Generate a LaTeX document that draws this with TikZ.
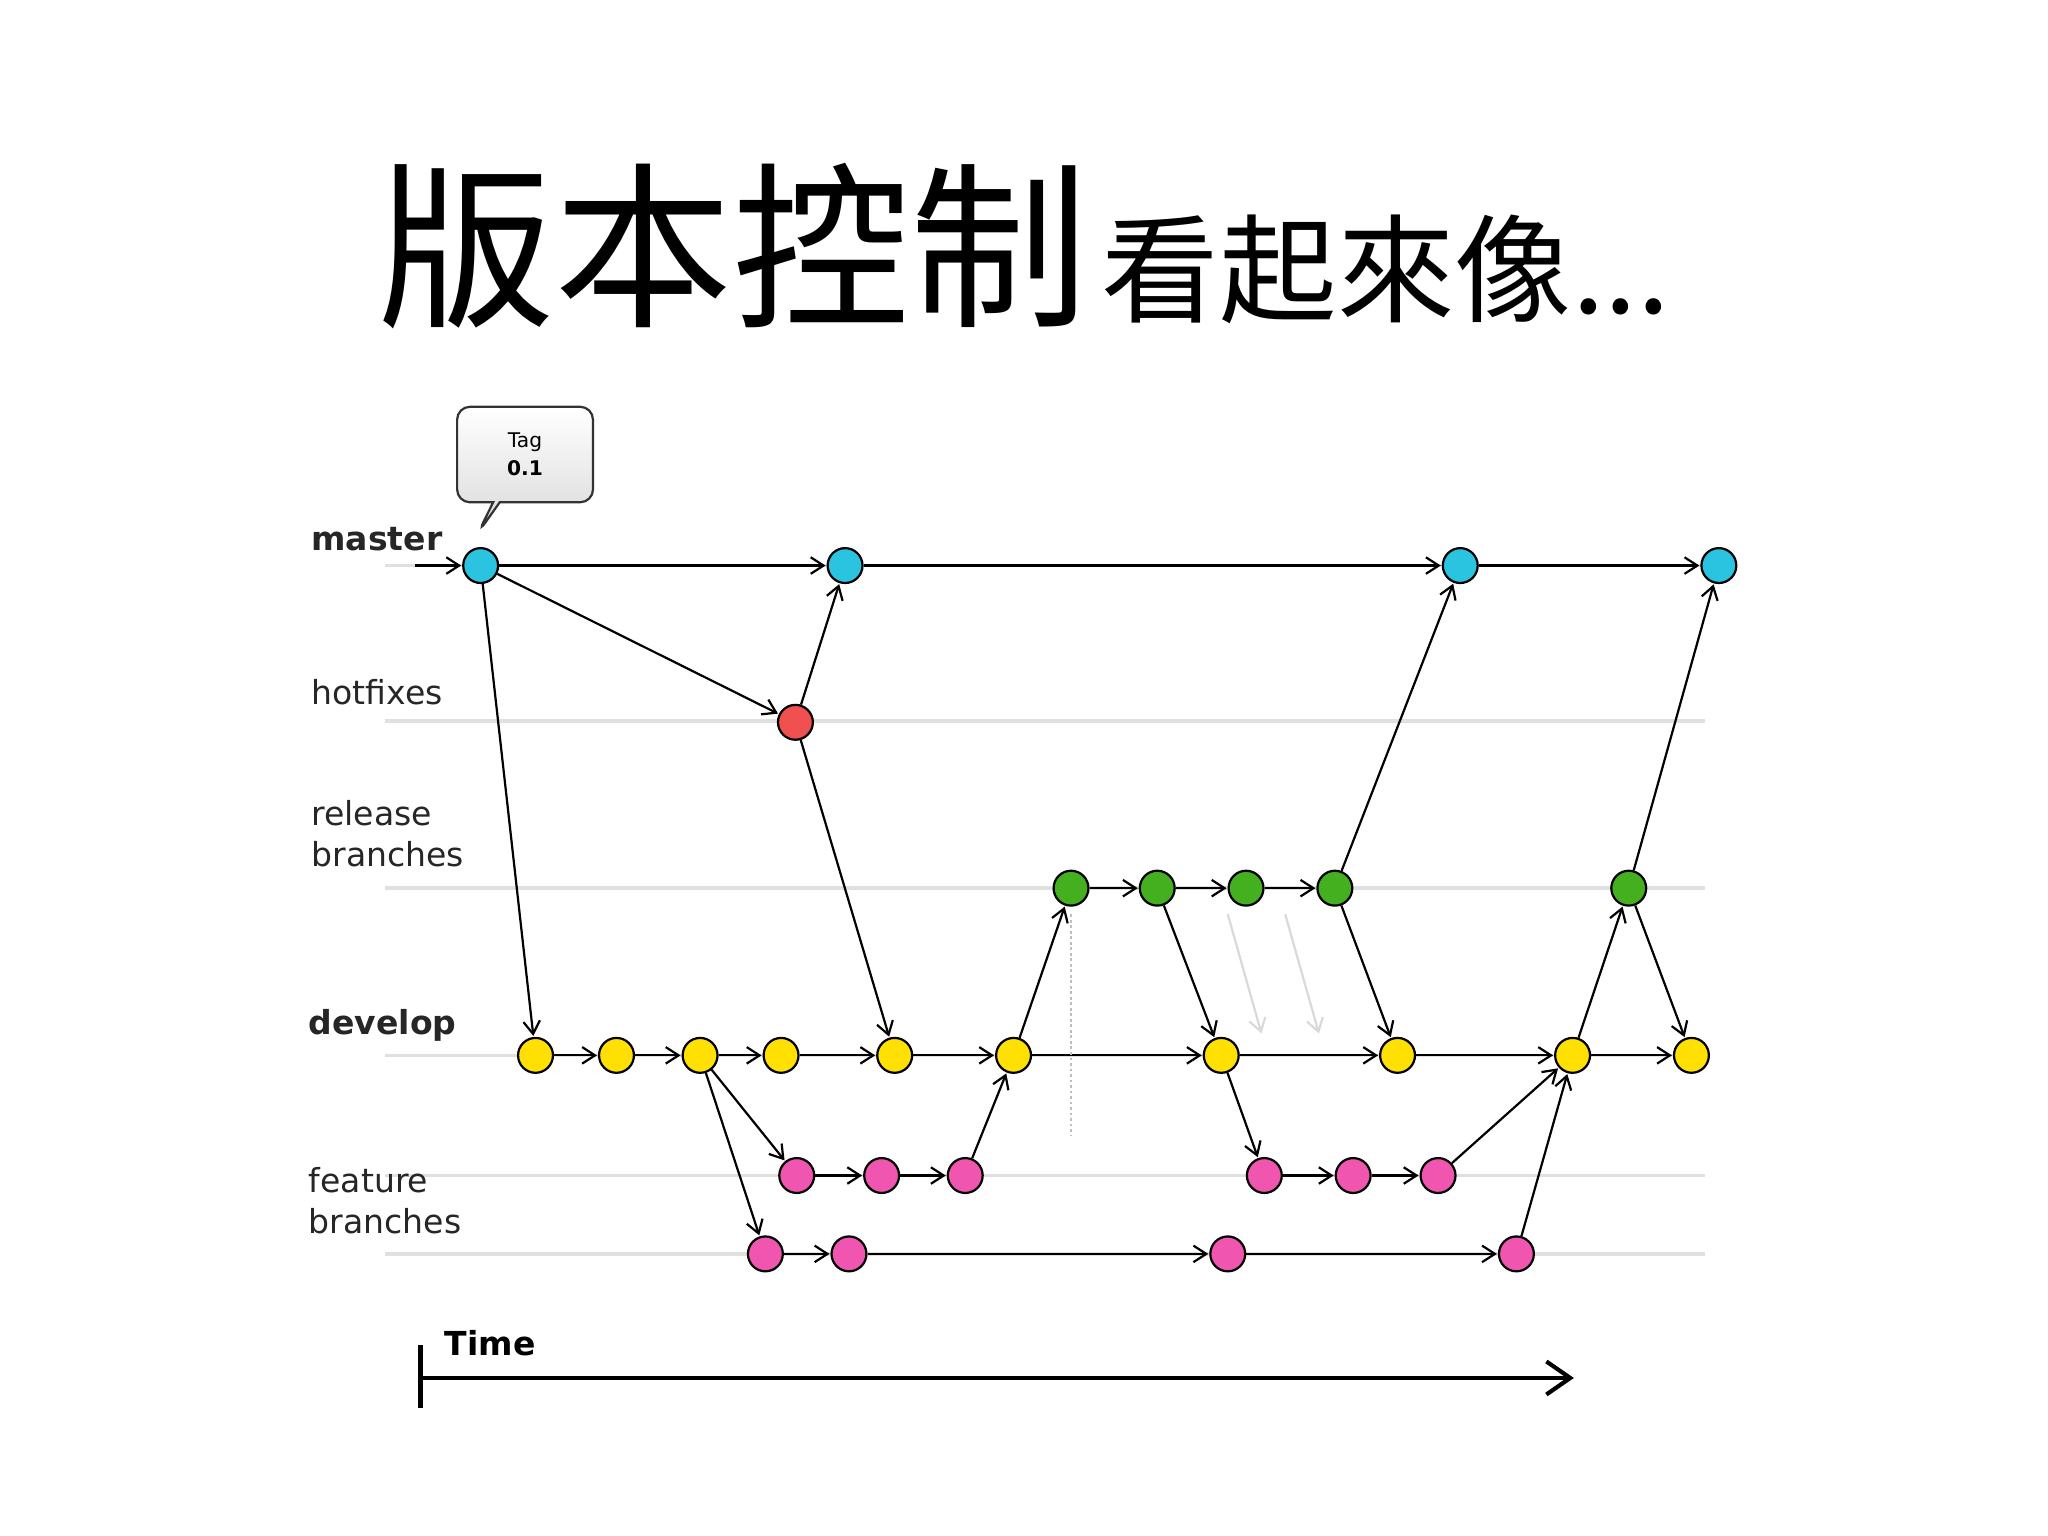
\documentclass[tikz,border=0pt]{standalone}
\usepackage{fontspec}
\setmainfont{DejaVu Sans}
\newfontfamily\cjk{Noto Sans CJK TC}
\usetikzlibrary{arrows.meta,shapes.callouts}
\definecolor{cy}{HTML}{2BC4E0}
\definecolor{rd}{HTML}{F05050}
\definecolor{gr}{HTML}{44B020}
\definecolor{ye}{HTML}{FFE000}
\definecolor{pk}{HTML}{F055B0}
\tikzset{
 commit/.style={circle,draw=black,line width=2.4pt,minimum size=38pt,inner sep=0pt},
 ar/.style={line width=2.4pt,-{Straight Barb[length=14pt,width=18pt,line width=2.4pt]},shorten >=1pt},
 lane/.style={line width=4pt,black!12},
 lab/.style={anchor=west,font=\fontsize{36}{45}\selectfont,text=black!85,align=left},
}
\begin{document}
\begin{tikzpicture}[x=0.05cm,y=-0.05cm]
\useasboundingbox (0,0) rectangle (1568,1176);
% title
\node[anchor=base west,inner sep=0] (t1) at (288,240) {\cjk\fontsize{194}{200}\selectfont 版本控制};
\node[anchor=base west,inner sep=0] (t2) at ([xshift=14pt]t1.base east) {\cjk\fontsize{128}{130}\selectfont 看起來像...};
% lanes
\foreach \y in {433,552,680,808,900,960} \draw[lane] (295,\y) -- (1305,\y);
% labels
\node[lab,font=\bfseries\fontsize{36}{45}\selectfont] (lm) at (236,413) {master};
\node[lab] (lh) at (236,530) {hotfixes};
\node[lab,anchor=north west] (lr) at (236,610) {release\\branches};
\node[lab,font=\bfseries\fontsize{36}{45}\selectfont] (ld) at (234,785) {develop};
\node[lab,anchor=north west] (lf) at (234,891) {feature\\branches};
% nodes
\foreach \n/\x in {m1/368,m2/647,m3/1118,m4/1316} \node[commit,fill=cy] (\n) at (\x,433) {};
\node[commit,fill=rd] (h1) at (609,553) {};
\foreach \n/\x in {r1/820,r2/886,r3/954,r4/1022,r5/1247} \node[commit,fill=gr] (\n) at (\x,680) {};
\foreach \n/\x in {d1/410,d2/472,d3/536,d4/598,d5/685,d6/776,d7/935,d8/1070,d9/1204,d10/1295} \node[commit,fill=ye] (\n) at (\x,808) {};
\foreach \n/\x in {f1/610,f2/675,f3/739,f4/968,f5/1036,f6/1101} \node[commit,fill=pk] (\n) at (\x,900) {};
\foreach \n/\x in {g1/586,g2/650,g3/940,g4/1161} \node[commit,fill=pk] (\n) at (\x,960) {};
% tag
\node[rectangle callout,rounded corners=14pt,draw=black!80,line width=2.4pt,top color=white,bottom color=black!15,
 minimum width=148pt,minimum height=104pt,align=center,font=\fontsize{22}{30}\selectfont,
 callout absolute pointer={(366,408)}] (tag) at (402,348) {Tag\\\textbf{0.1}};
% connectors
\coordinate (e0) at (318,433);
\draw[ar] (e0) -- (m1);
\foreach \a/\b in {m1/m2,m2/m3,m3/m4,m1/h1,h1/m2,h1/d5,m1/d1,
 d1/d2,d2/d3,d3/d4,d4/d5,d5/d6,d6/d7,d7/d8,d8/d9,d9/d10,
 d3/f1,d3/g1,f1/f2,f2/f3,f3/d6,g1/g2,g2/g3,g3/g4,g4/d9,f6/d9,
 d6/r1,r1/r2,r2/r3,r3/r4,r2/d7,r4/m3,r4/d8,d7/f4,f4/f5,f5/f6,d9/r5,r5/d10,r5/m4}
 \draw[ar] (\a) -- (\b);
% faint arrows
\coordinate (a1) at (940,700); \coordinate (a2) at (966,792);
\coordinate (b1) at (984,700); \coordinate (b2) at (1010,792);
\draw[ar,black!15] (a1) -- (a2);
\draw[ar,black!15] (b1) -- (b2);
\coordinate (v1) at (820,700); \coordinate (v2) at (820,870);
\draw[black!25,line width=1.5pt,dashed] (v1) -- (v2);
% time
\coordinate (ts) at (322,1055); \coordinate (te) at (1205,1055);
\coordinate (tb1) at (322,1030); \coordinate (tb2) at (322,1078);
\draw[line width=6pt] (tb1) -- (tb2);
\draw[line width=4.5pt,-{Straight Barb[length=26pt,width=36pt,line width=4.5pt]}] (ts) -- (te);
\node[anchor=base west,font=\bfseries\fontsize{36}{45}\selectfont] (tm) at (338,1038) {Time};
\end{tikzpicture}
\end{document}
